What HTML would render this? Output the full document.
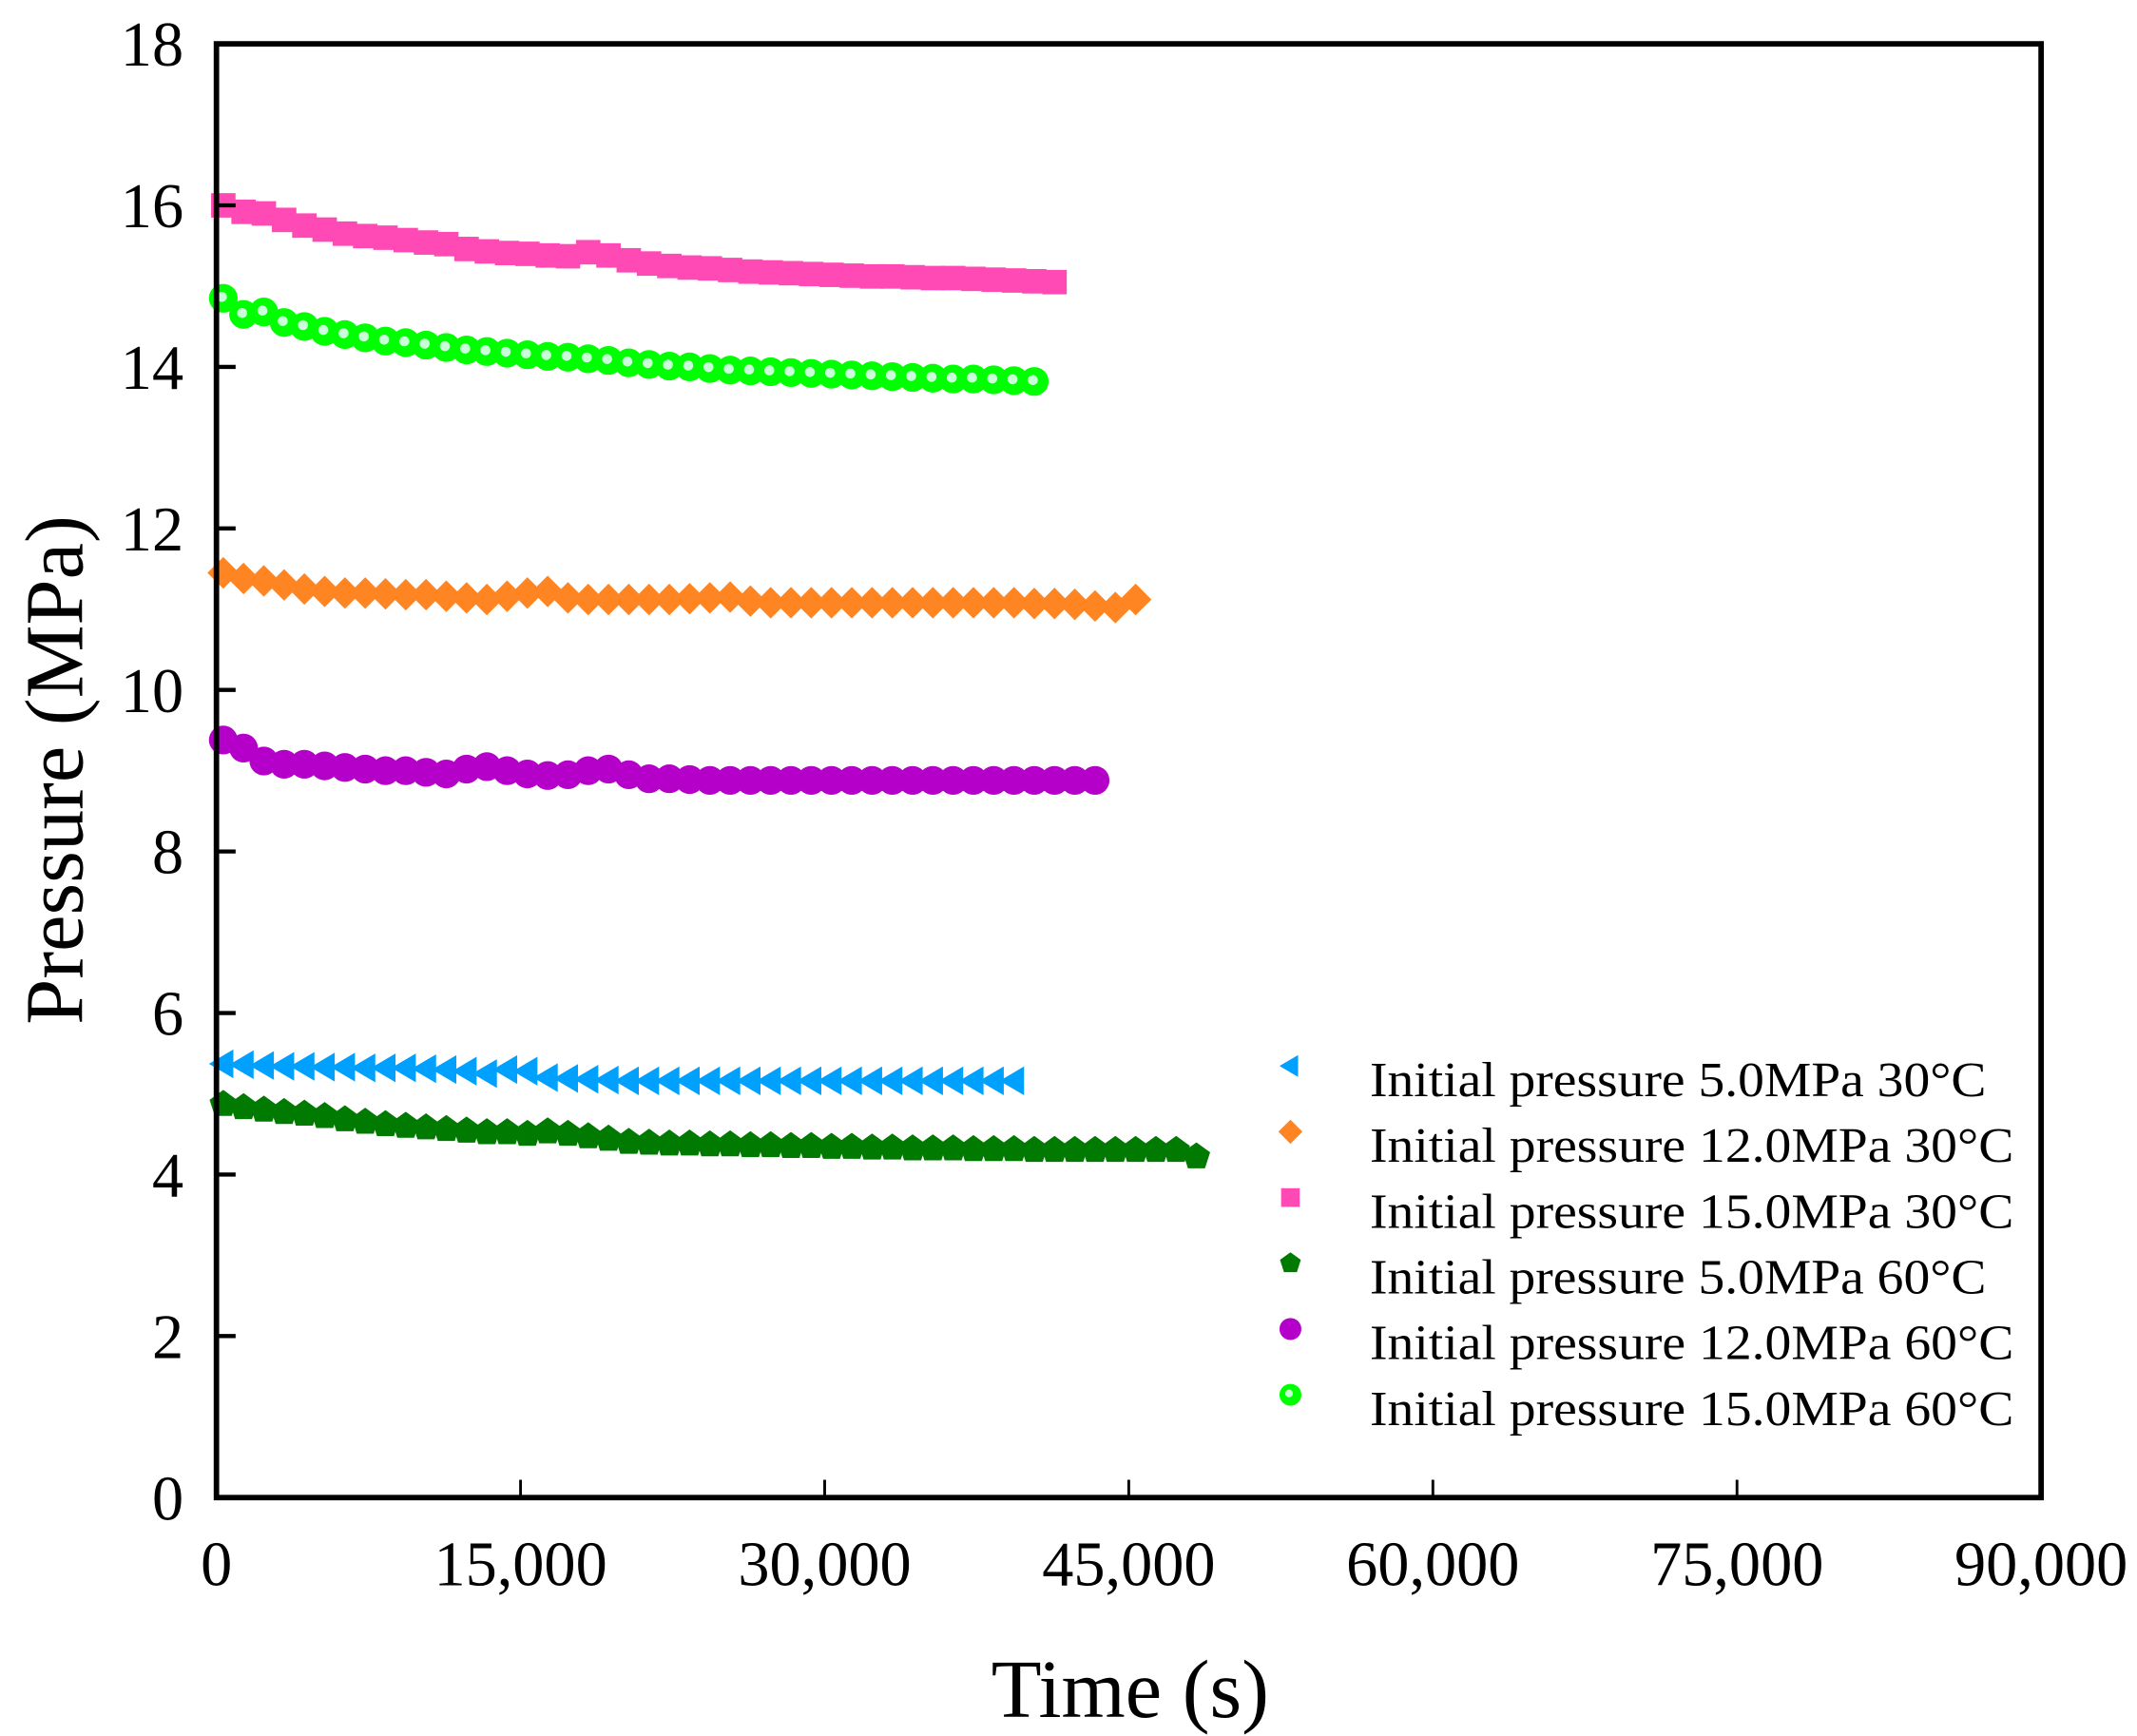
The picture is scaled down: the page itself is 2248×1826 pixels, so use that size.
<!DOCTYPE html>
<html><head><meta charset="utf-8"><style>
html,body{margin:0;padding:0;background:#fff;}
svg{display:block;}
text{font-family:"Liberation Serif","Times New Roman",serif;fill:#000;}
</style></head><body>
<svg id="chart" width="2248" height="1826" viewBox="0 0 1560 1267" preserveAspectRatio="none" xmlns="http://www.w3.org/2000/svg">
<g id="marks"></g>
<rect x="158" y="32" width="1332" height="1061" fill="none" stroke="#000" stroke-width="4"/>
<g id="axes"></g>
<text x="825" y="1253" font-size="60" text-anchor="middle">Time (s)</text>
<text transform="translate(60,562) rotate(-90)" font-size="60" text-anchor="middle">Pressure (MPa)</text>
<g id="legend"></g>
</svg>
<script>
const TIMES = [0,1000,2000,3000,4000,5000,6000,7000,8000,9000,10000,11000,12000,13000,14000,15000,16000,17000,18000,19000,20000,21000,22000,23000,24000,25000,26000,27000,28000,29000,30000,31000,32000,33000,34000,35000,36000,37000,38000,39000,40000,41000,42000,43000,44000,45000,46000,47000,48000];
const xTicks = [0,15000,30000,45000,60000,75000,90000];
const xTickLabels = ["0","15,000","30,000","45,000","60,000","75,000","90,000"];
const yTicks = [0,2,4,6,8,10,12,14,16,18];
const yTickLabels = ["0","2","4","6","8","10","12","14","16","18"];
const seriesNames = ["Initial pressure 5.0MPa 30\u00b0C","Initial pressure 12.0MPa 30\u00b0C","Initial pressure 15.0MPa 30\u00b0C","Initial pressure 5.0MPa 60\u00b0C","Initial pressure 12.0MPa 60\u00b0C","Initial pressure 15.0MPa 60\u00b0C"];
const blue5_30 = [5.37,5.36,5.35,5.34,5.34,5.33,5.33,5.32,5.32,5.32,5.31,5.3,5.28,5.25,5.3,5.28,5.2,5.19,5.18,5.17,5.16,5.16,5.16,5.16,5.16,5.16,5.16,5.16,5.16,5.16,5.16,5.16,5.16,5.16,5.16,5.16,5.16,5.16,5.16,5.16];
const orange12_30 = [11.45,11.38,11.35,11.3,11.25,11.22,11.2,11.2,11.19,11.18,11.18,11.16,11.14,11.12,11.16,11.2,11.22,11.14,11.12,11.12,11.12,11.12,11.12,11.13,11.14,11.15,11.1,11.08,11.08,11.08,11.08,11.08,11.08,11.08,11.08,11.08,11.08,11.08,11.08,11.08,11.07,11.07,11.06,11.04,11.02,11.12];
const pink15_30 = [16.0,15.92,15.9,15.82,15.75,15.7,15.65,15.62,15.6,15.57,15.54,15.52,15.46,15.43,15.41,15.4,15.38,15.37,15.42,15.38,15.32,15.28,15.25,15.23,15.22,15.2,15.18,15.17,15.16,15.15,15.14,15.13,15.12,15.12,15.11,15.1,15.1,15.09,15.08,15.07,15.06,15.05];
const dgreen5_60 = [4.87,4.83,4.8,4.77,4.75,4.72,4.68,4.65,4.62,4.6,4.58,4.56,4.54,4.52,4.52,4.5,4.53,4.5,4.47,4.44,4.4,4.39,4.38,4.38,4.37,4.37,4.36,4.36,4.35,4.35,4.34,4.34,4.33,4.33,4.32,4.32,4.32,4.31,4.31,4.31,4.3,4.3,4.3,4.3,4.3,4.3,4.3,4.3,4.22];
const purple12_60 = [9.38,9.28,9.12,9.08,9.08,9.06,9.04,9.02,9.0,9.0,8.98,8.96,9.02,9.05,9.0,8.96,8.94,8.95,9.0,9.02,8.95,8.9,8.9,8.89,8.88,8.88,8.88,8.88,8.88,8.88,8.88,8.88,8.88,8.88,8.88,8.88,8.88,8.88,8.88,8.88,8.88,8.88,8.88,8.88];
const green15_60 = [14.85,14.65,14.68,14.55,14.5,14.44,14.4,14.36,14.32,14.3,14.27,14.24,14.21,14.19,14.17,14.15,14.13,14.12,14.1,14.08,14.05,14.03,14.01,14.0,13.98,13.96,13.95,13.94,13.93,13.92,13.91,13.9,13.89,13.88,13.87,13.86,13.85,13.85,13.84,13.83,13.82];

const NS = "http://www.w3.org/2000/svg";
const X0=158, X1=1490, Y0=1093, Y1=32;
function xs(v){return X0+(v/90000)*(X1-X0);}
function ys(v){return Y0-(v/18)*(Y0-Y1);}
function mk(tag, attrs, parent){const e=document.createElementNS(NS,tag);for(const k in attrs)e.setAttribute(k,attrs[k]);parent.appendChild(e);return e;}

const axes=document.getElementById('axes');
xTicks.forEach((t,i)=>{
  const l=mk('line',{x1:xs(t),x2:xs(t),y1:Y0,y2:Y0-13,stroke:'#000','stroke-width':2},axes);
  
  
  const tx=mk('text',{x:xs(t),y:Y0+64,'font-size':46,'text-anchor':'middle'},axes);
  tx.textContent=xTickLabels[i];
  
  
});
yTicks.forEach((t,i)=>{
  const l=mk('line',{x1:X0,x2:X0+14,y1:ys(t),y2:ys(t),stroke:'#000','stroke-width':3},axes);
  
  
  const tx=mk('text',{x:X0-24,y:ys(t)+16,'font-size':46,'text-anchor':'end'},axes);
  tx.textContent=yTickLabels[i];
  
  
});

function marker(type,cx,cy,color,parent,s){
  let e;
  if(type==='tri') e=mk('polygon',{points:`${cx-s},${cy} ${cx+s*0.7},${cy-s} ${cx+s*0.7},${cy+s}`,fill:color},parent);
  else if(type==='dia') e=mk('polygon',{points:`${cx},${cy-s*1.1} ${cx+s*1.1},${cy} ${cx},${cy+s*1.1} ${cx-s*1.1},${cy}`,fill:color},parent);
  else if(type==='sq') e=mk('rect',{x:cx-s*0.85,y:cy-s*0.85,width:s*1.7,height:s*1.7,fill:color},parent);
  else if(type==='pent'){let p=[];for(let k=0;k<5;k++){const a=-Math.PI/2+k*2*Math.PI/5;p.push((cx+s*Math.cos(a)).toFixed(1)+','+(cy+s*Math.sin(a)).toFixed(1));}e=mk('polygon',{points:p.join(' '),fill:color},parent);}
  else if(type==='circ') e=mk('circle',{cx:cx,cy:cy,r:s,fill:color},parent);
  else {e=mk('circle',{cx:cx,cy:cy,r:s,fill:color},parent);mk('circle',{cx:cx-1,cy:cy-1,r:s*0.35,fill:'#c8ffd8'},parent);}
  return e;
}

const seriesList=[
  {vals:blue5_30,type:'tri',color:'#00A0FF'},
  {vals:orange12_30,type:'dia',color:'#FF8522'},
  {vals:pink15_30,type:'sq',color:'#FF4AB5'},
  {vals:dgreen5_60,type:'pent',color:'#007A00'},
  {vals:purple12_60,type:'circ',color:'#B400C8'},
  {vals:green15_60,type:'glow',color:'#00FF00'}
];
const marks=document.getElementById('marks');
seriesList.forEach((s,si)=>{
  const g=mk('g',{},marks);
  
  
  s.vals.forEach((v,i)=>{
    const m=marker(s.type,xs(TIMES[i])+5,ys(v),s.color,g,10.5);
    
    
  });
});

const legend=document.getElementById('legend');
seriesList.forEach((s,i)=>{
  const y=790+i*48;
  const g=mk('g',{},legend);
  
  
  marker(s.type,942,y-12,s.color,g,8);
  const t=mk('text',{x:1000,y:y+10,'font-size':36,textLength:seriesNames[i].indexOf('12.0')>0||seriesNames[i].indexOf('15.0')>0?470:450,lengthAdjust:'spacingAndGlyphs'},g);
  t.textContent=seriesNames[i];
});
</script>
</body></html>
